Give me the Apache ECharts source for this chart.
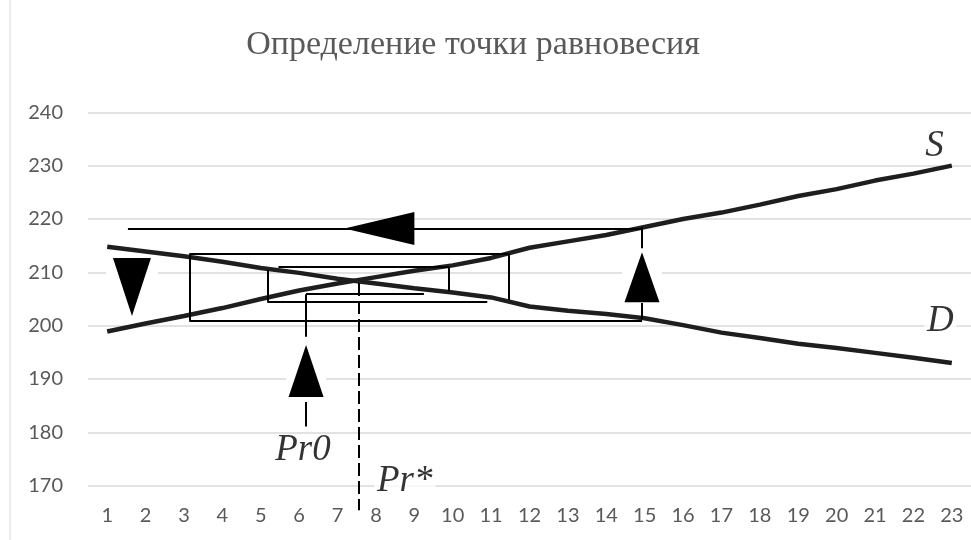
<!DOCTYPE html>
<html>
<head>
<meta charset="utf-8">
<title>Определение точки равновесия</title>
<script src="https://cdn.jsdelivr.net/npm/echarts@6/dist/echarts.min.js"></script>
<style>
  html, body { margin: 0; padding: 0; background: #fff; }
  #main { width: 971px; height: 540px; }
</style>
</head>
<body>
<div id="main"></div>
<script>
// данные
var periods = [];
for (var i = 1; i <= 23; i++) periods.push(String(i));

var supplyS = [198.9, 200.4, 201.8, 203.3, 205.0, 206.6, 207.9, 209.1, 210.3, 211.3, 212.7, 214.6,
               215.8, 217.0, 218.5, 220.0, 221.2, 222.7, 224.3, 225.6, 227.2, 228.5, 230.0];
var demandD = [214.8, 213.9, 213.0, 212.0, 210.8, 209.9, 208.8, 207.9, 207.0, 206.2, 205.3, 203.6,
               202.8, 202.2, 201.4, 200.1, 198.7, 197.7, 196.6, 195.8, 194.9, 194.0, 193.0];

// тонкие линии "паутины" (x — позиция по оси периодов, y — значение)
var webSegments = [
  [[1.54, 218.1], [14.93, 218.1]],
  [[14.93, 218.5], [14.93, 214.5]],
  [[14.93, 204.4], [14.93, 201.2]],
  [[3.14, 200.93], [14.93, 200.93]],
  [[3.14, 213.44], [3.14, 200.93]],
  [[3.14, 213.44], [11.46, 213.44]],
  [[11.46, 213.44], [11.46, 204.8]],
  [[5.46, 211.1], [9.89, 211.1]],
  [[9.89, 211.1], [9.89, 206.4]],
  [[5.17, 210.4], [5.17, 204.5]],
  [[5.17, 204.5], [10.9, 204.5]],
  [[6.18, 205.9], [9.25, 205.9]],
  [[6.18, 205.9], [6.18, 197.9]],
  [[6.18, 186.4], [6.18, 181.1]]
];
var dashedSegments = [
  [[7.54, 208.0], [7.54, 165.4]]
];

// стрелки-треугольники: [x, y, ширина, длина, поворот]
var arrowHeads = [
  [8.09, 218.2, 33, 70, 90],
  [1.645, 207.25, 38, 58, 180],
  [6.18, 191.5, 35, 52, 0],
  [14.93, 209.1, 35, 50, 0]
];
var arrowBoxes = [
  [1.645, 207.25, 52, 60],
  [6.18, 191.5, 40, 62],
  [14.93, 209.3, 40, 54]
];

// подписи: [текст, x, y, белая подложка]
var curveLabels = [
  ['S', 22.55, 233.6, false],
  ['D', 22.7, 200.8, true],
  ['Pr0', 6.1, 176.7, false],
  ['Pr*', 8.75, 170.9, true]
];

var axisFont = 'Lato';
var labelGray = '#595959';

var myChart = echarts.init(document.getElementById('main'));
myChart.setOption({
  animation: false,
  title: {
    text: 'Определение точки равновесия',
    left: 468,
    top: 23,
    textAlign: 'center',
    textStyle: { fontFamily: 'Liberation Serif', fontSize: 34, fontWeight: 'normal', color: labelGray }
  },
  graphic: [
    { type: 'rect', shape: { x: 9.5, y: 0, width: 1, height: 540 }, style: { fill: '#d9d9d9' }, silent: true }
  ],
  grid: { left: 88, top: 112.3, width: 891.3, height: 373.4 },
  xAxis: [
    {
      type: 'category',
      data: periods,
      boundaryGap: true,
      axisLine: { show: false },
      axisTick: { show: false },
      axisLabel: { color: labelGray, fontFamily: axisFont, fontSize: 20, margin: 20 }
    },
    { type: 'value', min: 0.5, max: 23.5, show: false }
  ],
  yAxis: {
    type: 'value',
    min: 170,
    max: 240,
    interval: 10,
    axisLine: { show: false },
    axisTick: { show: false },
    splitLine: { lineStyle: { color: '#d9d9d9', width: 1.5 } },
    axisLabel: { color: labelGray, fontFamily: axisFont, fontSize: 20, margin: 25 }
  },
  series: [
    {
      name: 'S', type: 'line', data: supplyS, symbol: 'none', z: 3,
      lineStyle: { color: '#1e1e1e', width: 4.5 }
    },
    {
      name: 'D', type: 'line', data: demandD, symbol: 'none', z: 3,
      lineStyle: { color: '#1e1e1e', width: 4.5 }
    },
    {
      type: 'lines', coordinateSystem: 'cartesian2d', xAxisIndex: 1, z: 4, clip: false,
      data: webSegments.map(function (s) { return { coords: s }; }),
      lineStyle: { color: '#000', width: 2, opacity: 1 }
    },
    {
      type: 'lines', coordinateSystem: 'cartesian2d', xAxisIndex: 1, z: 4, clip: false,
      data: dashedSegments.map(function (s) { return { coords: s }; }),
      lineStyle: { color: '#000', width: 2, type: [13, 5], opacity: 1 }
    },
    {
      type: 'scatter', xAxisIndex: 1, z: 5, clip: false, symbol: 'rect',
      itemStyle: { color: '#fff', opacity: 1 },
      data: arrowBoxes.map(function (b) {
        return { value: [b[0], b[1]], symbolSize: [b[2], b[3]] };
      })
    },
    {
      type: 'scatter', xAxisIndex: 1, z: 6, clip: false, symbol: 'triangle',
      itemStyle: { color: '#000', opacity: 1 },
      data: arrowHeads.map(function (a) {
        return { value: [a[0], a[1]], symbolSize: [a[2], a[3]], symbolRotate: a[4] };
      })
    },
    {
      type: 'scatter', xAxisIndex: 1, z: 6, clip: false, symbolSize: 0,
      data: curveLabels.map(function (l) {
        return {
          name: l[0], value: [l[1], l[2]],
          label: { backgroundColor: l[3] ? '#fff' : 'transparent' }
        };
      }),
      label: {
        show: true, position: 'inside', formatter: '{b}',
        fontFamily: 'Liberation Serif', fontStyle: 'italic', fontSize: 37, color: '#000',
        padding: [0, 3]
      }
    }
  ]
});
</script>
</body>
</html>
